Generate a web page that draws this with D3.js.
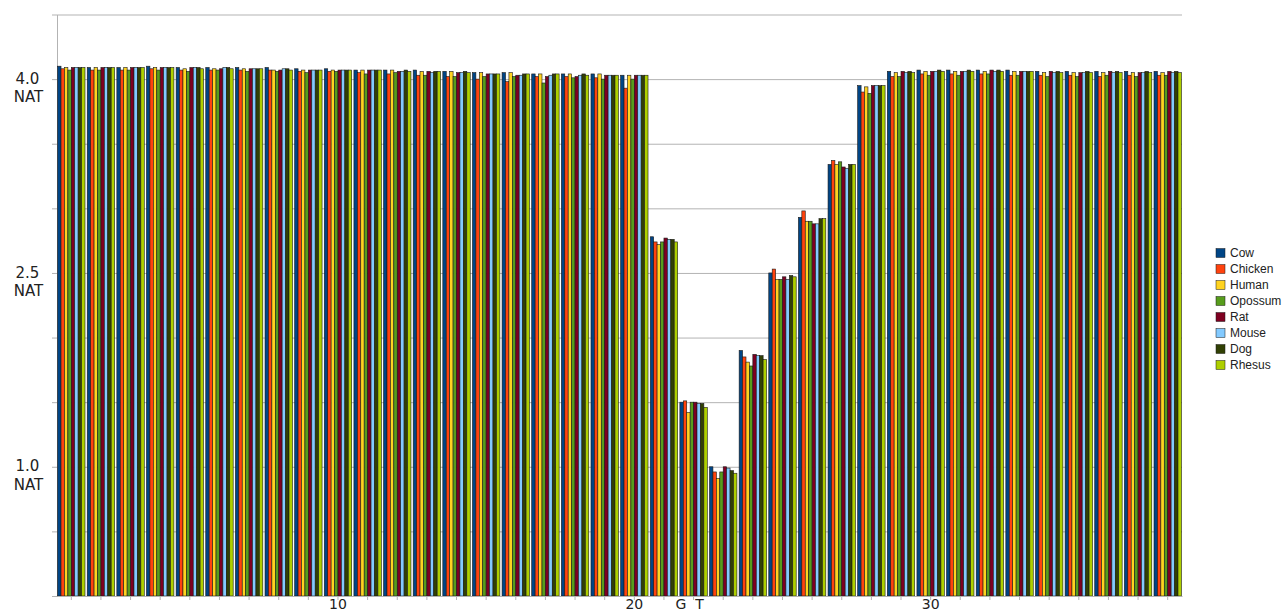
<!DOCTYPE html>
<html>
<head>
<meta charset="utf-8">
<script src="https://cdn.jsdelivr.net/npm/d3@7"></script>
<style>
body { margin: 0; background: #fff; }
svg { display: block; font-family: "DejaVu Sans", sans-serif; }
</style>
</head>
<body>
<svg id="chart" width="1284" height="612"></svg>
<script>
// --- Data ---
const positions = [1, 2, 3, 4, 5, 6, 7, 8, 9, 10, 11, 12, 13, 14, 15, 16, 17, 18, 19, 20,
    21, 22, 23, 24, 25, 26, 27, 28, 29, 30, 31, 32, 33, 34, 35, 36, 37, 38];

const species = ["Cow", "Chicken", "Human", "Opossum", "Rat", "Mouse", "Dog", "Rhesus"];

const cow = [4.10, 4.09, 4.09, 4.10, 4.09, 4.09, 4.09, 4.09, 4.08, 4.08,
    4.07, 4.07, 4.07, 4.06, 4.05, 4.05, 4.04, 4.04, 4.04, 4.03,
    2.78, 1.50, 1.00, 1.90, 2.50, 2.93, 3.34, 3.95,
    4.06, 4.07, 4.07, 4.07, 4.07, 4.06, 4.06, 4.06, 4.06, 4.06];
const chicken = [4.08, 4.07, 4.07, 4.08, 4.07, 4.07, 4.07, 4.07, 4.06, 4.06,
    4.05, 4.04, 4.03, 4.02, 4.00, 3.98, 4.02, 4.02, 4.01, 3.93,
    2.74, 1.51, 0.96, 1.85, 2.53, 2.98, 3.37, 3.90,
    4.02, 4.04, 4.04, 4.04, 4.03, 4.03, 4.03, 4.02, 4.03, 4.03];
const human = [4.09, 4.09, 4.09, 4.09, 4.08, 4.08, 4.08, 4.07, 4.07, 4.07,
    4.07, 4.07, 4.06, 4.06, 4.05, 4.05, 4.04, 4.04, 4.04, 4.03,
    2.72, 1.42, 0.91, 1.81, 2.45, 2.90, 3.34, 3.94,
    4.05, 4.06, 4.06, 4.06, 4.06, 4.05, 4.05, 4.05, 4.05, 4.05];
const opossum = [4.07, 4.07, 4.07, 4.07, 4.06, 4.07, 4.06, 4.06, 4.05, 4.06,
    4.04, 4.05, 4.03, 4.02, 4.02, 4.02, 3.97, 4.01, 4.00, 4.00,
    2.74, 1.50, 0.96, 1.78, 2.45, 2.90, 3.36, 3.89,
    4.02, 4.03, 4.03, 4.04, 4.03, 4.02, 4.02, 4.03, 4.02, 4.03];
const rat = [4.09, 4.09, 4.09, 4.09, 4.09, 4.08, 4.08, 4.07, 4.07, 4.07,
    4.07, 4.06, 4.06, 4.05, 4.04, 4.03, 4.02, 4.02, 4.03, 4.03,
    2.77, 1.50, 1.00, 1.87, 2.47, 2.88, 3.32, 3.95,
    4.06, 4.06, 4.06, 4.07, 4.06, 4.06, 4.05, 4.06, 4.05, 4.06];
const mouse = [4.09, 4.09, 4.09, 4.09, 4.09, 4.09, 4.08, 4.08, 4.07, 4.07,
    4.07, 4.06, 4.05, 4.05, 4.04, 4.03, 4.03, 4.03, 4.03, 4.03,
    2.76, 1.49, 0.99, 1.86, 2.45, 2.88, 3.31, 3.95,
    4.05, 4.06, 4.06, 4.06, 4.06, 4.05, 4.05, 4.05, 4.05, 4.05];
const dog = [4.09, 4.09, 4.09, 4.09, 4.09, 4.09, 4.08, 4.08, 4.07, 4.07,
    4.07, 4.07, 4.06, 4.06, 4.04, 4.04, 4.04, 4.04, 4.03, 4.03,
    2.76, 1.49, 0.97, 1.86, 2.48, 2.92, 3.34, 3.95,
    4.06, 4.07, 4.07, 4.07, 4.06, 4.06, 4.06, 4.06, 4.06, 4.06];
const rhesus = [4.09, 4.09, 4.09, 4.09, 4.08, 4.08, 4.08, 4.07, 4.07, 4.07,
    4.07, 4.06, 4.06, 4.05, 4.04, 4.04, 4.04, 4.03, 4.03, 4.03,
    2.74, 1.46, 0.95, 1.83, 2.47, 2.92, 3.34, 3.95,
    4.05, 4.06, 4.06, 4.06, 4.06, 4.05, 4.05, 4.05, 4.05, 4.05];

const seriesValues = [cow, chicken, human, opossum, rat, mouse, dog, rhesus];

// labelled y values and sparse x labels
const yLabels = [1.0, 2.5, 4.0];
const xLabels = { 10: "10", 20: "20", 22: "G\u00a0\u00a0T", 30: "30" };

const colors = ["#004586", "#ff420e", "#ffd320", "#579d1c", "#7e0021", "#83caff", "#314004", "#aecf00"];

(function(){
// --- Scales ---
const svg = d3.select("#chart");
const plot = { left: 57, right: 1182, top: 14.5, bottom: 596 };

const x = d3.scaleBand()
    .domain(positions)
    .range([plot.left, plot.right])
    .paddingInner(0.075)
    .paddingOuter(0.02);

const xs = d3.scaleBand()
    .domain(species)
    .range([0, x.bandwidth()]);

const y = d3.scaleLinear()
    .domain([0, 4.5])
    .range([plot.bottom, plot.top]);

const color = d3.scaleOrdinal().domain(species).range(colors);

// --- Grid + left ticks ---
const grid = svg.append("g")
    .attr("transform", `translate(${plot.left},0)`)
    .call(d3.axisLeft(y).ticks(9).tickSize(5).tickSizeOuter(0).tickFormat(""))
    .call(g => g.selectAll(".tick line").attr("stroke", "#b3b3b3"))
    .call(g => g.select(".domain").attr("stroke", "#b3b3b3"));

grid.selectAll(".tick")
    .filter(d => d > 0)
    .append("line")
    .attr("x1", 0)
    .attr("x2", plot.right - plot.left)
    .attr("stroke", "#b3b3b3");

// --- Bars ---
const groups = svg.append("g")
    .selectAll("g")
    .data(positions)
    .join("g")
    .attr("transform", d => `translate(${x(d)},0)`);

groups.selectAll("rect")
    .data((d, i) => species.map((s, k) => ({ s, v: seriesValues[k][i] })))
    .join("rect")
    .attr("x", d => xs(d.s))
    .attr("y", d => y(d.v))
    .attr("width", xs.bandwidth())
    .attr("height", d => y(0) - y(d.v))
    .attr("fill", d => color(d.s))
    .attr("stroke", "#1a1a1a")
    .attr("stroke-width", 0.6);

// --- X axis ---
svg.append("g")
    .attr("transform", `translate(0,${plot.bottom})`)
    .call(d3.axisBottom(x).tickSize(4).tickSizeOuter(0).tickPadding(0)
        .tickFormat(d => xLabels[d] || ""))
    .call(g => g.select(".domain").attr("stroke", "#b3b3b3"))
    .call(g => g.selectAll(".tick line").attr("stroke", "#b3b3b3"))
    .call(g => g.selectAll(".tick text")
        .attr("fill", "#222")
        .attr("y", 3)
        .style("font-size", "14px")
        .style("font-family", "DejaVu Sans, sans-serif")
        .attr("dx", d => d === 22 ? -4 : 0));

// --- Y labels ---
const yl = svg.append("g")
    .selectAll("text")
    .data(yLabels)
    .join("text")
    .attr("text-anchor", "middle")
    .attr("fill", "#222")
    .style("font-size", "15px");

yl.append("tspan")
    .attr("x", 27.5)
    .attr("y", d => y(d) + 4.6)
    .text(d => d.toFixed(1));

yl.append("tspan")
    .attr("x", 28.5)
    .attr("y", d => y(d) + 23)
    .text("NAT");

// --- Legend ---
const legend = svg.append("g")
    .selectAll("g")
    .data(species)
    .join("g")
    .attr("transform", (d, i) => `translate(1216,${253 + i * 16})`);

legend.append("rect")
    .attr("x", 0)
    .attr("y", -4.5)
    .attr("width", 9)
    .attr("height", 9)
    .attr("fill", d => color(d))
    .attr("stroke", "#1a1a1a")
    .attr("stroke-width", 0.5);

legend.append("text")
    .attr("x", 14)
    .attr("y", 4.2)
    .attr("fill", "#222")
    .style("font-family", "Liberation Sans, Arial, sans-serif")
    .style("font-size", "12px")
    .text(d => d);
})();
</script>
</body>
</html>
